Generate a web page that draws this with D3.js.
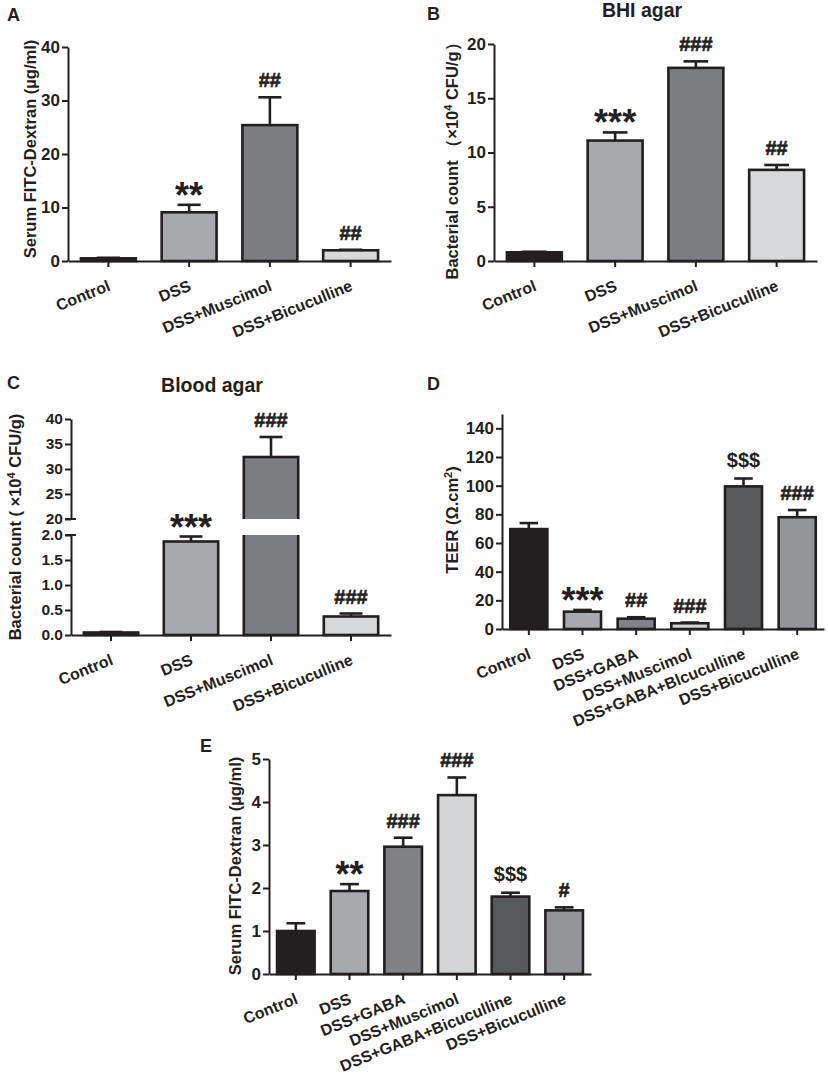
<!DOCTYPE html>
<html><head><meta http-equiv="Content-Type" content="text/html; charset=utf-8">
<script src="https://d3js.org/d3.v7.min.js"></script>
<style>
  body { margin: 0; background: #fff; }
  svg text { font-family: "Liberation Sans", Arial, sans-serif; fill: #231f20; }
</style>
</head>
<body>
<div id="fig"></div>
<script type="text/javascript">

// ------------------ DATA -----------------------------------
var groups4 = ["Control", "DSS", "DSS+Muscimol", "DSS+Bicuculline"];
var groupsD = ["Control", "DSS", "DSS+GABA", "DSS+Muscimol", "DSS+GABA+Blcuculline", "DSS+Bicuculline"];
var groupsE = ["Control", "DSS", "DSS+GABA", "DSS+Muscimol", "DSS+GABA+Bicuculline", "DSS+Bicuculline"];

// A: serum FITC-dextran (ug/ml)
var fitcA = [0.5, 9.1, 25.4, 2.0];
var fitcAErr = [0.1, 1.4, 5.2, 0.1];
var fitcASig = ["", "**", "##", "##"];

// B: BHI agar (x10^4 CFU/g)
var bhiB = [0.8, 11.1, 17.8, 8.4];
var bhiBErr = [0.05, 0.75, 0.6, 0.45];
var bhiBSig = ["", "***", "###", "##"];

// C: blood agar (x10^4 CFU/g)
var bloodC = [0.05, 1.87, 32.4, 0.37];
var bloodCErr = [0.01, 0.1, 4.0, 0.06];
var bloodCSig = ["", "***", "###", "###"];

// D: TEER (ohm.cm2)
var teerD = [69.7, 12.1, 7.2, 4.0, 99.5, 78.0];
var teerDErr = [4.2, 1.2, 1.0, 0.5, 5.5, 5.0];
var teerDSig = ["", "***", "##", "###", "$$$", "###"];

// E: serum FITC-dextran (ug/ml)
var fitcE = [1.0, 1.93, 2.96, 4.16, 1.80, 1.48];
var fitcEErr = [0.18, 0.16, 0.21, 0.41, 0.09, 0.07];
var fitcESig = ["", "**", "###", "###", "$$$", "#"];

var ticksA = [0, 10, 20, 30, 40];
var ticksB = [0, 5, 10, 15, 20];
var ticksCLow = [0, 0.5, 1.0, 1.5, 2.0];
var ticksCHigh = [20, 25, 30, 35, 40];
var ticksD = [0, 20, 40, 60, 80, 100, 120, 140];
var ticksE = [0, 1, 2, 3, 4, 5];

var fill4 = ["#231f20", "#a7a9ac", "#7c7d80", "#d7d8d9"];
var fill6 = ["#231f20", "#a7a9ac", "#808285", "#d4d5d6", "#58595b", "#939598"];

// ------------------ SVG -----------------------------------
var width = 828, height = 1081;
var ink = "#231f20";

var svg = d3.select("#fig").append("svg")
  .attr("width", width)
  .attr("height", height);

var clipCount = 0;

function sigText(g, s, cx, yTop) {
  if (!s) return;
  var t = g.append("text").attr("x", cx).attr("text-anchor", "middle")
    .style("font-weight", "bold").text(s);
  if (s[0] === "*") {
    t.attr("y", yTop - 12 + 15).style("font-size", "36px");
  } else if (s[0] === "$") {
    t.attr("y", yTop - 12).style("font-size", "20px");
  } else {
    // hash glyphs are thin at this size, thicken a little
    t.attr("y", yTop - 10).style("font-size", "20px")
      .style("stroke", ink).style("stroke-width", 0.6);
  }
}

function drawPanel(p) {
  var g = svg.append("g");

  var x = d3.scaleBand()
    .domain(p.cats)
    .range([p.x0, p.x1])
    .paddingInner(p.pad)
    .paddingOuter(p.pad / 2);

  var segs = p.segs.map(function (s) {
    return { y: d3.scaleLinear().domain(s.domain).range(s.range), ticks: s.ticks, fmt: s.fmt };
  });
  var yBot = segs[0].y(0);

  function segFor(v) {
    for (var i = segs.length - 1; i >= 0; i--) {
      if (v >= segs[i].y.domain()[0]) return segs[i];
    }
    return segs[0];
  }

  // bars, one clipped copy per axis segment
  segs.forEach(function (s, i) {
    var id = "clip" + (clipCount++);
    var r = s.y.range();
    var cTop = i === segs.length - 1 ? 0 : r[1];
    var cBot = i === 0 ? height : r[0];
    g.append("clipPath").attr("id", id)
      .append("rect")
      .attr("x", 0).attr("width", width)
      .attr("y", cTop).attr("height", cBot - cTop);

    var d0 = s.y.domain();
    g.append("g").attr("clip-path", "url(#" + id + ")")
      .selectAll("rect")
      .data(p.vals.map(function (v, k) { return { v: v, k: k }; })
        .filter(function (d) { return i === 0 || d.v > d0[0]; }))
      .enter()
      .append("rect")
      .attr("x", function (d) { return x(p.cats[d.k]); })
      .attr("width", x.bandwidth())
      .attr("y", function (d) { return d.v > d0[1] ? r[1] - 8 : s.y(d.v); })
      .attr("height", function (d) {
        var top = d.v > d0[1] ? r[1] - 8 : s.y(d.v);
        var bot = i === 0 ? yBot : r[0] + 8;
        return Math.max(0.5, bot - top);
      })
      .style("fill", function (d) { return p.fills[d.k]; })
      .style("stroke", ink)
      .style("stroke-width", 2.6);
  });

  // error bars
  p.vals.forEach(function (v, k) {
    var s = segFor(v + p.errs[k]);
    var cx = x(p.cats[k]) + x.bandwidth() / 2;
    var y1 = s.y(v), y2 = s.y(v + p.errs[k]);
    var cw = x.bandwidth() * p.cap / 2;
    g.append("line").attr("x1", cx).attr("x2", cx).attr("y1", y1).attr("y2", y2)
      .style("stroke", ink).style("stroke-width", 2.6);
    g.append("line").attr("x1", cx - cw).attr("x2", cx + cw).attr("y1", y2).attr("y2", y2)
      .style("stroke", ink).style("stroke-width", 2.6);
    sigText(g, p.sig[k], cx, y2);
  });

  // y axis segments
  segs.forEach(function (s) {
    var ax = g.append("g")
      .attr("transform", "translate(" + p.x0 + ",0)")
      .call(d3.axisLeft(s.y).tickValues(s.ticks).tickFormat(s.fmt)
        .tickSize(6).tickSizeOuter(0).tickPadding(2));
    ax.select(".domain").style("stroke", ink).style("stroke-width", 2);
    ax.selectAll(".tick line").style("stroke", ink).style("stroke-width", 2);
    ax.selectAll(".tick text")
      .style("font-size", p.tickFont || "17px").style("font-weight", "bold")
      .style("font-family", "'Liberation Sans', Arial, sans-serif").style("fill", ink);
  });

  // break marks on a split axis
  if (segs.length > 1) {
    [segs[0].y.range()[1], segs[1].y.range()[0]].forEach(function (yy) {
      g.append("line").attr("x1", p.x0 - 6).attr("x2", p.x0 + 5).attr("y1", yy).attr("y2", yy)
        .style("stroke", ink).style("stroke-width", 2);
    });
  }

  // x axis
  var xa = g.append("g")
    .attr("transform", "translate(0," + yBot + ")")
    .call(d3.axisBottom(x).tickSize(6).tickSizeOuter(0).tickFormat(""));
  xa.select(".domain").style("stroke", ink).style("stroke-width", 2);
  xa.selectAll(".tick line").style("stroke", ink).style("stroke-width", 2);

  g.selectAll("text.xlab")
    .data(p.cats)
    .enter()
    .append("text")
    .attr("class", "xlab")
    .attr("text-anchor", "end")
    .attr("transform", function (d) {
      return "translate(" + (x(d) + x.bandwidth() / 2 + 3) + "," + (yBot + 29) + ") rotate(-22)";
    })
    .style("font-size", "16px")
    .style("font-weight", "bold")
    .text(function (d) { return d; });

  // y title
  var yt = g.append("text")
    .attr("text-anchor", "middle")
    .attr("dy", "0.35em")
    .attr("transform", "translate(" + p.yTitleX + "," + p.yTitleY + ") rotate(-90)")
    .style("font-size", "16.5px")
    .style("font-weight", "bold");
  p.ytitle.forEach(function (part) {
    var ts = yt.append("tspan").text(part.t);
    if (part.sup) ts.attr("baseline-shift", "super").style("font-size", "11px");
  });

  // panel letter and title
  g.append("text").attr("x", p.letter[1]).attr("y", p.letter[2])
    .style("font-size", "18px").style("font-weight", "bold").text(p.letter[0]);
  if (p.title) {
    g.append("text").attr("x", p.title[1]).attr("y", p.title[2])
      .attr("text-anchor", "middle")
      .style("font-size", "19.5px").style("font-weight", "bold").text(p.title[0]);
  }
}

// ----------------- PANELS ------------------------------
drawPanel({
  cats: groups4, vals: fitcA, errs: fitcAErr, sig: fitcASig, fills: fill4,
  x0: 68, x1: 391, pad: 0.32, cap: 0.42,
  segs: [{ domain: [0, 40], range: [261, 47], ticks: ticksA, fmt: d3.format("d") }],
  ytitle: [{ t: "Serum FITC-Dextran (\u00b5g/ml)" }], yTitleX: 30, yTitleY: 149,
  letter: ["A", 7, 21]
});

drawPanel({
  cats: groups4, vals: bhiB, errs: bhiBErr, sig: bhiBSig, fills: fill4,
  x0: 494, x1: 817, pad: 0.32, cap: 0.45,
  segs: [{ domain: [0, 20], range: [261, 44], ticks: ticksB, fmt: d3.format("d") }],
  ytitle: [{ t: "Bacterial count \uff08\u00d710" }, { t: "4", sup: true }, { t: " CFU/g\uff09" }],
  yTitleX: 452, yTitleY: 157,
  letter: ["B", 427, 20], title: ["BHI agar", 642, 17]
});

drawPanel({
  cats: groups4, vals: bloodC, errs: bloodCErr, sig: bloodCSig, fills: fill4,
  x0: 71, x1: 391, pad: 0.32, cap: 0.42, tickFont: "15.5px",
  segs: [
    { domain: [0, 2], range: [635, 535], ticks: ticksCLow, fmt: d3.format(".1f") },
    { domain: [20, 40], range: [519, 419], ticks: ticksCHigh, fmt: d3.format("d") }
  ],
  ytitle: [{ t: "Bacterial count ( \u00d710" }, { t: "4", sup: true }, { t: " CFU/g)" }],
  yTitleX: 15, yTitleY: 527,
  letter: ["C", 7, 389], title: ["Blood agar", 212, 392]
});

drawPanel({
  cats: groupsD, vals: teerD, errs: teerDErr, sig: teerDSig, fills: fill6,
  x0: 502, x1: 824, pad: 0.31, cap: 0.5,
  segs: [{ domain: [0, 150], range: [629, 414], ticks: ticksD, fmt: d3.format("d") }],
  ytitle: [{ t: "TEER (\u03a9.cm" }, { t: "2", sup: true }, { t: ")" }],
  yTitleX: 452, yTitleY: 520,
  letter: ["D", 427, 390]
});

drawPanel({
  cats: groupsE, vals: fitcE, errs: fitcEErr, sig: fitcESig, fills: fill6,
  x0: 269, x1: 591, pad: 0.3, cap: 0.5,
  segs: [{ domain: [0, 5], range: [974, 759], ticks: ticksE, fmt: d3.format("d") }],
  ytitle: [{ t: "Serum FITC-Dextran (\u00b5g/ml)" }], yTitleX: 235, yTitleY: 866,
  letter: ["E", 200, 752]
});

</script>
</body></html>
